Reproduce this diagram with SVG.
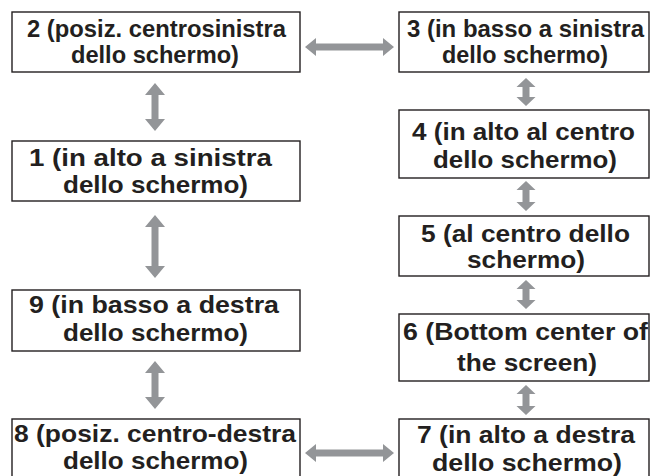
<svg xmlns="http://www.w3.org/2000/svg" width="651" height="476" viewBox="0 0 651 476">
<style>
.box{fill:#fff;stroke:#231f20;stroke-width:1.4}
.t{font-family:"Liberation Sans",Arial,sans-serif;font-weight:bold;font-size:24px;fill:#231f20;text-anchor:middle}
.arr{fill:#939598}
</style>
<rect width="651" height="476" fill="#fff"/>
<g id="connectors">
<polygon class="arr" points="305,47 316,38 316,43.5 383,43.5 383,38 394,47 383,56 383,50.5 316,50.5 316,56"/>
<polygon class="arr" points="305,453 316,444 316,449.5 383,449.5 383,444 394,453 383,462 383,456.5 316,456.5 316,462"/>
<polygon class="arr" points="155,83 165,95 158.5,95 158.5,119 165,119 155,131 145,119 151.5,119 151.5,95 145,95"/>
<polygon class="arr" points="155,215 165,227 158.5,227 158.5,266 165,266 155,278 145,266 151.5,266 151.5,227 145,227"/>
<polygon class="arr" points="155,361 165,373 158.5,373 158.5,397 165,397 155,409 145,397 151.5,397 151.5,373 145,373"/>
<polygon class="arr" points="526,78 535.5,87 529.5,87 529.5,97 535.5,97 526,106 516.5,97 522.5,97 522.5,87 516.5,87"/>
<polygon class="arr" points="526,181 535.5,190 529.5,190 529.5,202 535.5,202 526,211 516.5,202 522.5,202 522.5,190 516.5,190"/>
<polygon class="arr" points="526,280 535.5,289 529.5,289 529.5,300 535.5,300 526,309 516.5,300 522.5,300 522.5,289 516.5,289"/>
<polygon class="arr" points="526,385 535.5,394 529.5,394 529.5,406 535.5,406 526,415 516.5,406 522.5,406 522.5,394 516.5,394"/>
</g>
<g id="node2">
<rect class="box" x="12" y="12" width="288" height="60"/>
<text class="t" x="156.5" y="37" textLength="259" lengthAdjust="spacingAndGlyphs">2 (posiz. centrosinistra</text>
<text class="t" x="155" y="63" textLength="168" lengthAdjust="spacingAndGlyphs">dello schermo)</text>
</g>
<g id="node1">
<rect class="box" x="12" y="141" width="288" height="60"/>
<text class="t" x="150.5" y="166" textLength="243" lengthAdjust="spacingAndGlyphs">1 (in alto a sinistra</text>
<text class="t" x="155.5" y="193" textLength="185" lengthAdjust="spacingAndGlyphs">dello schermo)</text>
</g>
<g id="node9">
<rect class="box" x="12" y="290" width="288" height="61"/>
<text class="t" x="154" y="313" textLength="250" lengthAdjust="spacingAndGlyphs">9 (in basso a destra</text>
<text class="t" x="155.5" y="341" textLength="185" lengthAdjust="spacingAndGlyphs">dello schermo)</text>
</g>
<g id="node8">
<rect class="box" x="12" y="419" width="288" height="70"/>
<text class="t" x="155" y="442" textLength="282" lengthAdjust="spacingAndGlyphs">8 (posiz. centro-destra</text>
<text class="t" x="155.5" y="469" textLength="185" lengthAdjust="spacingAndGlyphs">dello schermo)</text>
</g>
<g id="node3">
<rect class="box" x="399" y="12" width="250" height="60"/>
<text class="t" x="525.5" y="37" textLength="237" lengthAdjust="spacingAndGlyphs">3 (in basso a sinistra</text>
<text class="t" x="525" y="63" textLength="166" lengthAdjust="spacingAndGlyphs">dello schermo)</text>
</g>
<g id="node4">
<rect class="box" x="399" y="110" width="250" height="68"/>
<text class="t" x="523.5" y="140" textLength="223" lengthAdjust="spacingAndGlyphs">4 (in alto al centro</text>
<text class="t" x="525" y="168" textLength="184" lengthAdjust="spacingAndGlyphs">dello schermo)</text>
</g>
<g id="node5">
<rect class="box" x="399" y="216" width="250" height="60"/>
<text class="t" x="525.5" y="242" textLength="209" lengthAdjust="spacingAndGlyphs">5 (al centro dello</text>
<text class="t" x="526" y="268" textLength="118" lengthAdjust="spacingAndGlyphs">schermo)</text>
</g>
<g id="node6">
<rect class="box" x="399" y="314" width="250" height="67"/>
<text class="t" x="525.5" y="340" textLength="245" lengthAdjust="spacingAndGlyphs">6 (Bottom center of</text>
<text class="t" x="527" y="371" textLength="140" lengthAdjust="spacingAndGlyphs">the screen)</text>
</g>
<g id="node7">
<rect class="box" x="399" y="419" width="250" height="70"/>
<text class="t" x="526" y="443" textLength="218" lengthAdjust="spacingAndGlyphs">7 (in alto a destra</text>
<text class="t" x="527" y="471" textLength="190" lengthAdjust="spacingAndGlyphs">dello schermo)</text>
</g>
</svg>
